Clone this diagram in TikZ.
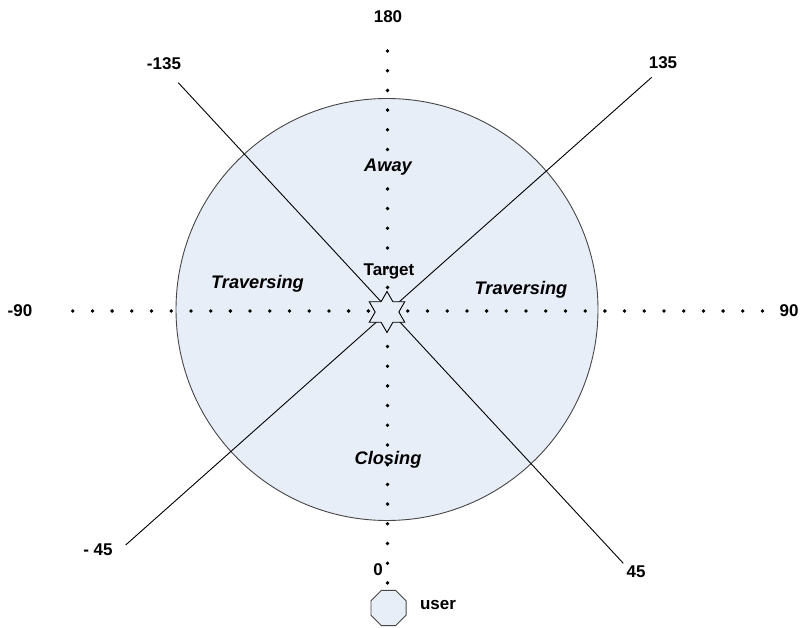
\documentclass[tikz,border=0pt]{standalone}
\usepackage{fontspec}
\setmainfont{Liberation Sans}
\usetikzlibrary{shapes.geometric}
\definecolor{zonefill}{RGB}{232,238,248}
\definecolor{edgegray}{RGB}{70,70,70}
\tikzset{
  lbl/.style={font=\fontsize{17}{20}\selectfont\bfseries, inner sep=0pt},
  zone/.style={font=\fontsize{18.2}{21}\selectfont\bfseries\itshape, inner sep=0pt},
  ray/.style={draw=black, line width=0.9pt},
  dotmark/.style={fill=black, draw=none}
}
\begin{document}
\begin{tikzpicture}[x=1pt,y=-1pt]
\useasboundingbox (0,0) rectangle (801,628);
% circle
\node[circle, draw=edgegray, line width=0.9pt, fill=zonefill, minimum size=422pt, inner sep=0pt] (disc) at (387,309.5) {};
% diagonal lines
\coordinate (pA) at (178.3,82.7);
\coordinate (pB) at (623.3,563.3);
\coordinate (pC) at (651.7,77.3);
\coordinate (pD) at (125.7,545);
\draw[ray] (pA) -- (pB);
\draw[ray] (pC) -- (pD);
% labels
\node[lbl] (l180) at (388,17) {180};
\node[lbl] (lm135) at (164,64) {-135};
\node[lbl] (l135) at (663,63) {135};
\node[lbl] (lm90) at (20,311) {-90};
\node[lbl] (l90) at (789,311) {90};
\node[lbl] (lm45) at (98,550) {- 45};
\node[lbl] (l45) at (636,572) {45};
\node[lbl] (l0) at (378,570) {0};
\node[lbl] (luser) at (438,605) {user};
\node[lbl] (ltarget) at (389,271) {Target};
\node[zone] (away) at (388,167) {Away};
\node[zone] (travL) at (257.5,284) {Traversing};
\node[zone] (travR) at (521,290) {Traversing};
\node[zone] (close) at (388,460) {Closing};
% dotted axes
\foreach \i in {0,...,35} {
  \fill[dotmark] (72.7+19.71*\i,311) circle (1.9pt);
}
\foreach \i in {0,...,27} {
  \fill[dotmark] (387.5,51+19.7*\i) circle (1.9pt);
}
% star
\node[star, star points=6, star point ratio=1.732, minimum size=41pt, inner sep=0pt, draw=black, line width=0.9pt, fill=zonefill] (tgt) at (387,312) {};
% user octagon
\node[regular polygon, regular polygon sides=8, minimum size=38pt, inner sep=0pt, draw=edgegray, line width=0.9pt, fill=zonefill] (usr) at (388.5,608) {};
\end{tikzpicture}
\end{document}
